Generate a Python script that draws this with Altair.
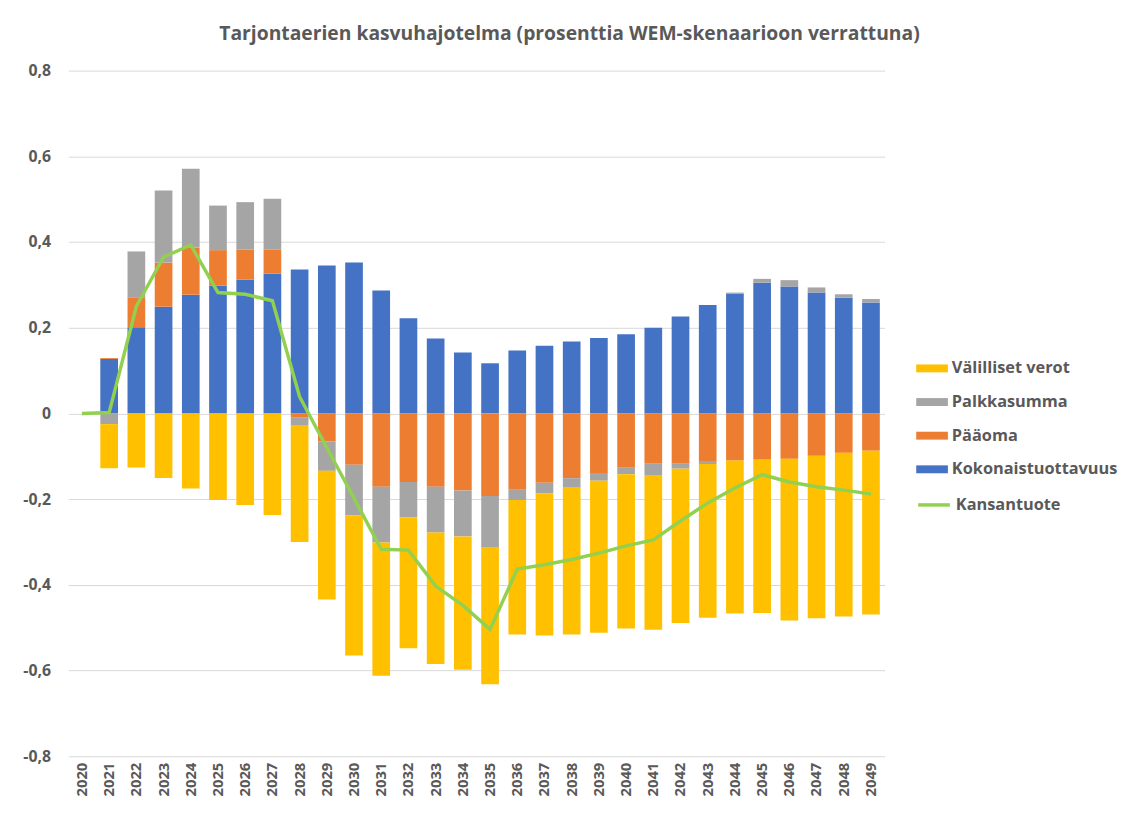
import altair as alt
import pandas as pd

years = [str(y) for y in range(2020, 2050)]

kokonaistuottavuus = [0, 0.127, 0.201, 0.249, 0.277, 0.298, 0.312, 0.326, 0.336, 0.345,
                      0.352, 0.287, 0.222, 0.175, 0.142, 0.117, 0.147, 0.158, 0.168, 0.176,
                      0.185, 0.200, 0.226, 0.253, 0.280, 0.305, 0.296, 0.282, 0.270, 0.259]
paaoma = [0, 0.002, 0.070, 0.103, 0.110, 0.083, 0.070, 0.056, -0.010, -0.065,
          -0.120, -0.171, -0.160, -0.171, -0.180, -0.193, -0.178, -0.162, -0.151, -0.139,
          -0.127, -0.116, -0.116, -0.113, -0.110, -0.108, -0.106, -0.099, -0.092, -0.087]
palkkasumma = [0, -0.025, 0.107, 0.168, 0.184, 0.104, 0.111, 0.119, -0.017, -0.069,
               -0.118, -0.130, -0.083, -0.107, -0.107, -0.119, -0.024, -0.025, -0.021, -0.018,
               -0.015, -0.028, -0.013, -0.005, 0.002, 0.009, 0.015, 0.012, 0.008, 0.008]
valilliset_verot = [0, -0.103, -0.126, -0.151, -0.175, -0.202, -0.214, -0.237, -0.273, -0.300,
                    -0.327, -0.311, -0.305, -0.307, -0.311, -0.320, -0.314, -0.331, -0.344, -0.355,
                    -0.360, -0.361, -0.360, -0.359, -0.357, -0.358, -0.377, -0.379, -0.382, -0.382]
kansantuote = [0, 0.002, 0.250, 0.365, 0.393, 0.282, 0.278, 0.263, 0.039, -0.080,
               -0.198, -0.317, -0.319, -0.403, -0.448, -0.504, -0.363, -0.353, -0.341, -0.326,
               -0.309, -0.295, -0.251, -0.209, -0.174, -0.143, -0.160, -0.171, -0.179, -0.188]

bar_series = ["Kokonaistuottavuus", "Pääoma", "Palkkasumma", "Välilliset verot"]
bar_values = [kokonaistuottavuus, paaoma, palkkasumma, valilliset_verot]
legend_order = ["Välilliset verot", "Palkkasumma", "Pääoma", "Kokonaistuottavuus"]
legend_colors = ["#FFC000", "#A5A5A5", "#ED7D31", "#4472C4"]
line_name = "Kansantuote"
line_color = "#92D050"
title_text = "Tarjontaerien kasvuhajotelma (prosenttia WEM-skenaarioon verrattuna)"
y_ticks = [-0.8, -0.6, -0.4, -0.2, 0, 0.2, 0.4, 0.6, 0.8]

rows = []
for k, (name, vals) in enumerate(zip(bar_series, bar_values)):
    for y, v in zip(years, vals):
        rows.append({"year": y, "series": name, "value": v, "ord": k})
bars_df = pd.DataFrame(rows)
line_df = pd.DataFrame({"year": years, "value": kansantuote, "name": line_name})

FONT = "Open Sans"
TXT = "#595959"

x_enc = alt.X(
    "year:N",
    sort=years,
    scale=alt.Scale(paddingInner=0.35, paddingOuter=0.175),
    axis=alt.Axis(title=None, labelAngle=270, ticks=False, domain=False, grid=False,
                  labelPadding=6, labelFontSize=15, labelFont=FONT,
                  labelFontWeight="bold", labelColor=TXT),
)
y_scale = alt.Scale(domain=[-0.8, 0.8], nice=False)
y_axis = alt.Axis(
    title=None, values=y_ticks, ticks=False, domain=False, grid=True,
    gridColor="#D9D9D9", gridWidth=1, labelPadding=18, labelFontSize=16,
    labelFont=FONT, labelFontWeight="bold", labelColor=TXT,
    labelExpr="datum.value == 0 ? '0' : (datum.value < 0 ? '-' : '') + replace(format(abs(datum.value), '.1f'), '.', ',')",
)

bars = alt.Chart(bars_df).mark_bar().encode(
    x=x_enc,
    y=alt.Y("value:Q", stack="zero", scale=y_scale, axis=y_axis),
    color=alt.Color(
        "series:N",
        scale=alt.Scale(domain=legend_order, range=legend_colors),
        legend=alt.Legend(title=None, orient="none", legendX=857, legendY=285,
                          symbolType="M-1,-0.25H1V0.25H-1Z", symbolSize=1024,
                          symbolStrokeWidth=0, rowPadding=9, labelOffset=4,
                          labelLimit=300),
    ),
    order=alt.Order("ord:Q"),
)

line = alt.Chart(line_df).mark_line(strokeWidth=3.5).encode(
    x=alt.X("year:N", sort=years),
    y=alt.Y("value:Q", scale=y_scale),
    stroke=alt.Stroke(
        "name:N",
        scale=alt.Scale(domain=[line_name], range=[line_color]),
        legend=alt.Legend(title=None, orient="none", legendX=857, legendY=421,
                          symbolType="stroke", symbolSize=1024, symbolStrokeWidth=3.5,
                          rowPadding=9, labelOffset=4, labelLimit=300),
    ),
)

chart = alt.layer(bars, line).properties(
    width=825,
    height=693,
    padding={"left": 14, "top": 12, "right": 5, "bottom": 2},
    title=alt.TitleParams(title_text, anchor="middle", dx=94, offset=18,
                          font=FONT, fontSize=19.5, fontWeight="bold", color=TXT),
).configure_view(stroke=None).configure_legend(
    labelFont=FONT, labelFontSize=16.5, labelFontWeight="bold", labelColor=TXT
)

chart.save("out.html", embed_options={"renderer": "svg", "actions": False})
